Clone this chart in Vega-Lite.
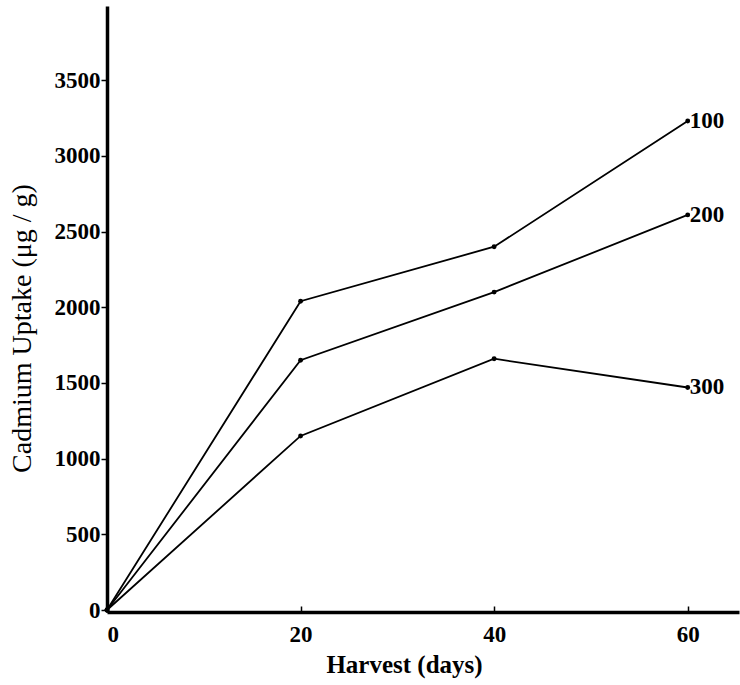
{
  "$schema": "https://vega.github.io/schema/vega-lite/v6.json",
  "width": 632,
  "height": 606,
  "autosize": {"type": "none"},
  "padding": {"left": 107, "top": 6, "right": 1, "bottom": 73},
  "background": "white",
  "config": {
    "view": {"stroke": null},
    "font": "Liberation Serif",
    "axis": {"grid": false, "domainColor": "black", "tickColor": "black", "labelColor": "black", "titleColor": "black", "labelFont": "Liberation Serif", "titleFont": "Liberation Serif"}
  },
  "data": {
    "values": [
      {"day": 0, "uptake": 0, "rate": "100"},
      {"day": 20, "uptake": 2040, "rate": "100"},
      {"day": 40, "uptake": 2400, "rate": "100"},
      {"day": 60, "uptake": 3230, "rate": "100"},
      {"day": 0, "uptake": 0, "rate": "200"},
      {"day": 20, "uptake": 1650, "rate": "200"},
      {"day": 40, "uptake": 2100, "rate": "200"},
      {"day": 60, "uptake": 2610, "rate": "200"},
      {"day": 0, "uptake": 0, "rate": "300"},
      {"day": 20, "uptake": 1150, "rate": "300"},
      {"day": 40, "uptake": 1660, "rate": "300"},
      {"day": 60, "uptake": 1470, "rate": "300"}
    ]
  },
  "encoding": {
    "x": {
      "field": "day", "type": "quantitative",
      "scale": {"domain": [0, 65.3], "nice": false, "zero": false},
      "axis": {
        "title": "Harvest (days)", "values": [0, 20, 40, 60], "format": "d",
        "domainWidth": 3.5, "tickSize": -6, "tickWidth": 1.5,
        "labelFontSize": 23, "labelFontWeight": "bold", "labelPadding": 17,
        "titleFontSize": 25, "titleFontWeight": "bold", "titleColor": "black",
        "titleX": 297, "titleY": 52, "titleBaseline": "middle", "titleAlign": "center"
      }
    },
    "y": {
      "field": "uptake", "type": "quantitative",
      "scale": {"domain": [-13, 3990], "nice": false, "zero": false},
      "axis": {
        "title": "Cadmium Uptake (μg / g)", "values": [0, 500, 1000, 1500, 2000, 2500, 3000, 3500], "format": "d",
        "domainWidth": 3.5, "tickSize": 6, "tickWidth": 1.5,
        "labelFontSize": 23, "labelFontWeight": "bold", "labelPadding": 1,
        "titleFontSize": 28, "titleFontWeight": "normal", "titleColor": "black",
        "titleX": -85, "titleY": 322, "titleAngle": -90, "titleBaseline": "middle", "titleAlign": "center"
      }
    },
    "detail": {"field": "rate", "type": "nominal"}
  },
  "layer": [
    {"mark": {"type": "line", "color": "black", "strokeWidth": 1.8}},
    {"mark": {"type": "point", "filled": true, "color": "black", "size": 24, "opacity": 1}},
    {
      "transform": [{"filter": "datum.day == 60"}],
      "mark": {"type": "text", "align": "left", "dx": 2, "fontSize": 23, "fontWeight": "bold", "font": "Liberation Serif", "color": "black"},
      "encoding": {"text": {"field": "rate"}}
    }
  ]
}
